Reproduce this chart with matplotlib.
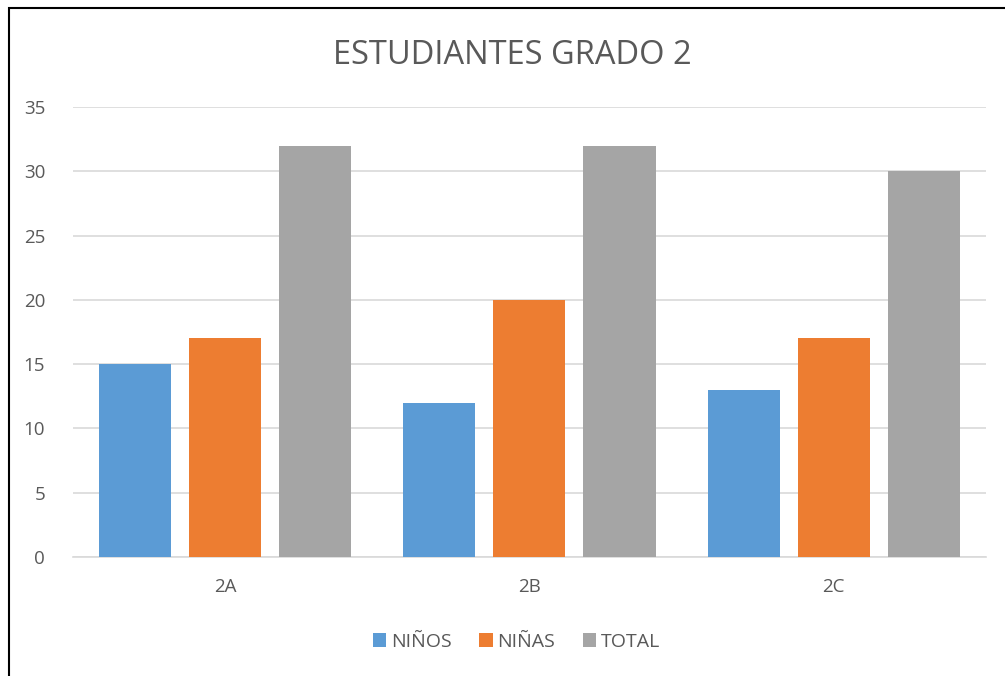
import numpy as np
import matplotlib.pyplot as plt
from matplotlib.patches import Rectangle

grupos = ["2A", "2B", "2C"]
ninos = [15, 12, 13]
ninas = [17, 20, 17]
total = [32, 32, 30]

series = [("NIÑOS", ninos, "#5B9BD5"),
          ("NIÑAS", ninas, "#ED7D31"),
          ("TOTAL", total, "#A5A5A5")]

plt.rcParams['font.family'] = ['Open Sans', 'DejaVu Sans']
texto = "#595959"

fig = plt.figure(figsize=(10.05, 6.76), dpi=100)
ax = fig.add_axes([0.0726, 0.176, 0.9084, 0.6657])

x = np.arange(len(grupos))
ancho = 0.237
paso = 0.296
for i, (nombre, vals, color) in enumerate(series):
    ax.bar(x + (i - 1) * paso, vals, width=ancho, color=color, label=nombre, zorder=3)

ax.set_xlim(-0.5, 2.5)
ax.set_ylim(0, 35)
ax.set_yticks(range(0, 36, 5))
ax.set_xticks(x)
ax.set_xticklabels(grupos)
ax.grid(axis="y", color="#D9D9D9", linewidth=1.2, zorder=0)
for s in ["top", "right", "left"]:
    ax.spines[s].set_visible(False)
ax.spines["bottom"].set_color("#D9D9D9")
ax.spines["bottom"].set_linewidth(1.2)
ax.tick_params(length=0, labelsize=13.5, colors=texto, pad=20)
ax.tick_params(axis="x", pad=15)

fig.text(0.51, 0.918, "ESTUDIANTES GRADO 2", ha="center", va="center",
         fontsize=23.5, color=texto)

ax.legend(loc="center", bbox_to_anchor=(0.514, 0.051), bbox_transform=fig.transFigure,
          ncol=3, frameon=False, fontsize=14, labelcolor=texto,
          handlelength=0.7, handleheight=0.7, handletextpad=0.25, columnspacing=1.4)

fig.patches.append(Rectangle((9 / 1005, -0.1), 1.2, 1 - 8 / 676 + 0.1,
                             transform=fig.transFigure, fill=False,
                             edgecolor="black", linewidth=1.5, zorder=10))

fig.savefig("out.png", dpi=100)
